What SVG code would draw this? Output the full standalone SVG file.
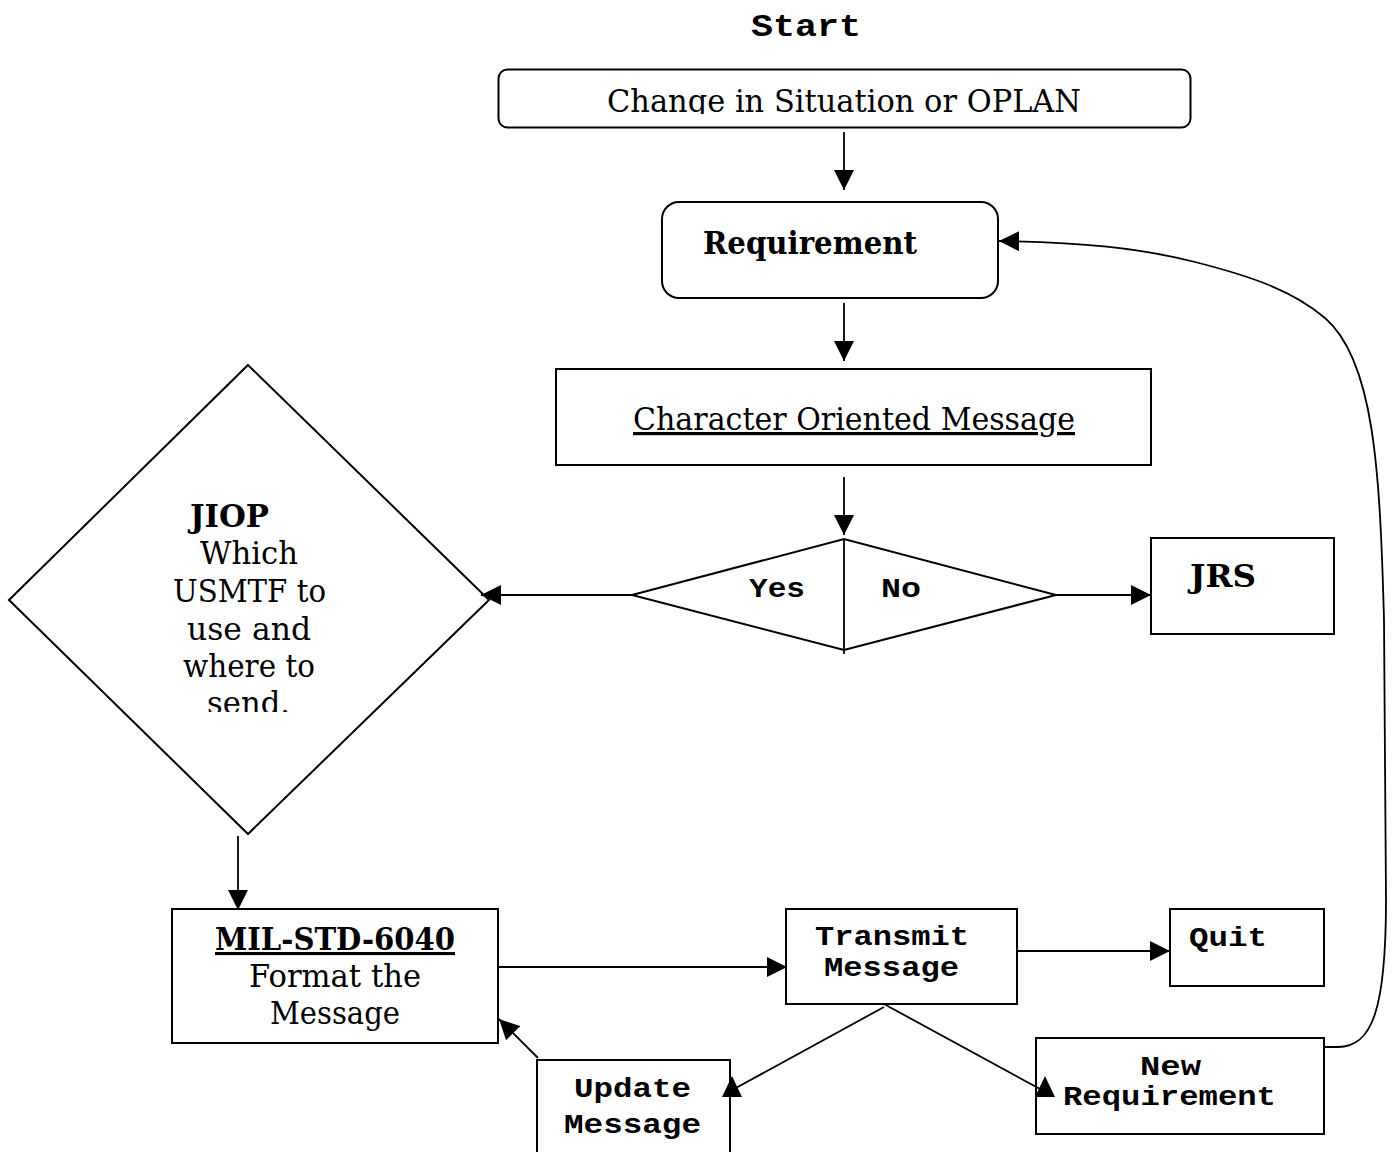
<svg xmlns="http://www.w3.org/2000/svg" width="1393" height="1152" viewBox="0 0 1393 1152">
<style>
.box{fill:#fff;stroke:#000;stroke-width:2}
.ln{fill:none;stroke:#000;stroke-width:1.8}
.ar{fill:none;stroke:#000;stroke-width:1.8;marker-end:url(#ah)}
.s{font-family:"DejaVu Serif","Liberation Serif",serif;font-size:32px;fill:#000}
.sb{font-family:"DejaVu Serif","Liberation Serif",serif;font-size:31px;font-weight:bold;fill:#000}
.m{font-family:"Liberation Mono","Courier New",monospace;font-size:28px;font-weight:bold;fill:#000}
.u{text-decoration:underline}
</style>
<defs>
<marker id="ah" viewBox="0 0 20 20" refX="20" refY="10" markerWidth="20" markerHeight="20" markerUnits="userSpaceOnUse" orient="auto">
<path d="M0,0 L20,10 L0,20 Z" fill="#000"/>
</marker>
<clipPath id="c1"><rect x="500" y="70" width="690" height="44"/></clipPath>
<clipPath id="c2"><rect x="0" y="360" width="500" height="352"/></clipPath>
</defs>

<g id="start"><text class="m" x="806" y="36" text-anchor="middle" textLength="110" lengthAdjust="spacingAndGlyphs" style="font-size:31px">Start</text></g>

<g id="change">
<rect class="box" x="498.5" y="69.5" width="692" height="58" rx="9"/>
<g clip-path="url(#c1)"><text class="s" x="844" y="112" text-anchor="middle" textLength="474" lengthAdjust="spacingAndGlyphs">Change in Situation or OPLAN</text></g>
</g>

<g id="requirement">
<rect class="box" x="662" y="202" width="336" height="96" rx="17"/>
<text class="sb" x="810" y="254" text-anchor="middle" textLength="214" lengthAdjust="spacingAndGlyphs">Requirement</text>
</g>

<g id="com">
<rect class="box" x="556" y="369" width="595" height="96"/>
<text class="s u" x="854" y="430" text-anchor="middle" textLength="442" lengthAdjust="spacingAndGlyphs">Character Oriented Message</text>
</g>

<g id="decision">
<polygon class="box" points="632,595 844,539 1056,595 844,650"/>
<line class="ln" x1="844" y1="539" x2="844" y2="654"/>
<text class="m" x="777" y="597" text-anchor="middle" textLength="56" lengthAdjust="spacingAndGlyphs">Yes</text>
<text class="m" x="901" y="597" text-anchor="middle" textLength="40" lengthAdjust="spacingAndGlyphs">No</text>
</g>

<g id="jrs">
<rect class="box" x="1151" y="538" width="183" height="96"/>
<text class="sb" x="1223" y="587" text-anchor="middle" textLength="66" lengthAdjust="spacingAndGlyphs">JRS</text>
</g>

<g id="jiop">
<polygon class="box" points="248,365 489,600 248,834 9,600"/>
<text class="sb" x="229.5" y="527" text-anchor="middle" textLength="79" lengthAdjust="spacingAndGlyphs">JIOP</text>
<g clip-path="url(#c2)">
<text class="s" x="249" y="564" text-anchor="middle" textLength="98" lengthAdjust="spacingAndGlyphs">Which</text>
<text class="s" x="249.5" y="602" text-anchor="middle" textLength="153" lengthAdjust="spacingAndGlyphs">USMTF to</text>
<text class="s" x="249" y="640" text-anchor="middle" textLength="124" lengthAdjust="spacingAndGlyphs">use and</text>
<text class="s" x="249" y="677" text-anchor="middle" textLength="132" lengthAdjust="spacingAndGlyphs">where to</text>
<text class="s" x="248.5" y="714" text-anchor="middle" textLength="83" lengthAdjust="spacingAndGlyphs">send.</text>
</g>
</g>

<g id="mil">
<rect class="box" x="172" y="909" width="326" height="134"/>
<text class="sb u" x="335" y="950" text-anchor="middle" textLength="240" lengthAdjust="spacingAndGlyphs">MIL-STD-6040</text>
<text class="s" x="335" y="987" text-anchor="middle" textLength="172" lengthAdjust="spacingAndGlyphs">Format the</text>
<text class="s" x="335" y="1024" text-anchor="middle" textLength="130" lengthAdjust="spacingAndGlyphs">Message</text>
</g>

<g id="transmit">
<rect class="box" x="786" y="909" width="231" height="95"/>
<text class="m" x="892" y="945" text-anchor="middle" textLength="154" lengthAdjust="spacingAndGlyphs">Transmit</text>
<text class="m" x="891.5" y="976" text-anchor="middle" textLength="135" lengthAdjust="spacingAndGlyphs">Message</text>
</g>

<g id="quit">
<rect class="box" x="1170" y="909" width="154" height="77"/>
<text class="m" x="1228" y="946" text-anchor="middle" textLength="78" lengthAdjust="spacingAndGlyphs">Quit</text>
</g>

<g id="newreq">
<rect class="box" x="1036" y="1038" width="288" height="96"/>
<text class="m" x="1170.5" y="1075" text-anchor="middle" textLength="61" lengthAdjust="spacingAndGlyphs">New</text>
<text class="m" x="1169.5" y="1105" text-anchor="middle" textLength="213" lengthAdjust="spacingAndGlyphs">Requirement</text>
</g>

<g id="update">
<rect class="box" x="537" y="1060" width="193" height="100"/>
<text class="m" x="632.5" y="1097" text-anchor="middle" textLength="117" lengthAdjust="spacingAndGlyphs">Update</text>
<text class="m" x="632.5" y="1133" text-anchor="middle" textLength="137" lengthAdjust="spacingAndGlyphs">Message</text>
</g>

<g id="connectors">
<line class="ar" x1="844" y1="132" x2="844" y2="190"/>
<line class="ar" x1="844" y1="303" x2="844" y2="361"/>
<line class="ar" x1="844" y1="477" x2="844" y2="535"/>
<line class="ar" x1="632" y1="595" x2="481" y2="595"/>
<line class="ar" x1="1056" y1="595" x2="1151" y2="595"/>
<line class="ar" x1="238" y1="836" x2="238" y2="910"/>
<line class="ar" x1="499" y1="967" x2="787" y2="967"/>
<line class="ar" x1="1017" y1="951" x2="1170" y2="951"/>
<line class="ln" x1="884" y1="1007" x2="734" y2="1089"/>
<polygon points="732,1076 742,1097 722,1097" fill="#000"/>
<line class="ln" x1="884" y1="1004" x2="1040" y2="1089"/>
<polygon points="1045,1076 1055,1097 1035,1097" fill="#000"/>
<line class="ar" x1="538" y1="1058" x2="499" y2="1019"/>
<path class="ar" d="M1324,1047 L1338,1047 C1372,1047 1386,1010 1386,900 L1384,620 C1380,470 1374,360 1325,318 C1292,290 1250,276 1195,262 C1140,248 1080,242 999,241"/>
</g>
</svg>
